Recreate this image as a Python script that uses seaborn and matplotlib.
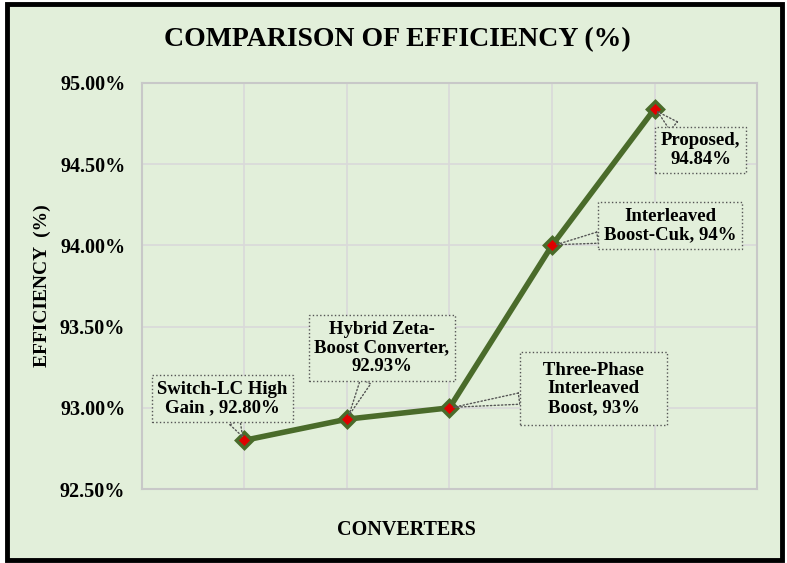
import numpy as np
import pandas as pd
import seaborn as sns
import matplotlib.pyplot as plt
from matplotlib.patches import Rectangle

# данные
converters = ['Switch-LC High\nGain , 92.80%', 'Hybrid Zeta-\nBoost Converter,\n92.93%',
              'Three-Phase\nInterleaved\nBoost, 93%', 'Interleaved\nBoost-Cuk, 94%',
              'Proposed,\n94.84%']
efficiency = [92.80, 92.93, 93.00, 94.00, 94.84]
y_ticks = [92.5, 93.0, 93.5, 94.0, 94.5, 95.0]
# смещения подписей (пиксели)
label_dx = [-22, 35, 144, 118, 46]
label_dy = [42, 71, 19, 20, -41]

bg = '#E2EFDA'
line_c = '#4A6B2A'

sns.set_style('white')
plt.rcParams['font.family'] = ['Liberation Serif', 'DejaVu Serif']
plt.rcParams['text.color'] = 'black'
plt.rcParams['ytick.color'] = 'black'
plt.rcParams['axes.labelcolor'] = 'black'

df = pd.DataFrame({'pos': np.arange(1, len(efficiency) + 1), 'eff': efficiency})

fig = plt.figure(figsize=(7.87, 5.63), dpi=100)
fig.patch.set_facecolor('white')
frame = Rectangle((0.009, 0.005), 0.985, 0.988, transform=fig.transFigure,
                  facecolor=bg, edgecolor='black', linewidth=3.5, zorder=-1)
fig.add_artist(frame)
ax = fig.add_axes([0.1804, 0.1314, 0.7815, 0.7212])
ax.set_zorder(2)
ax.set_facecolor(bg)

sns.lineplot(data=df, x='pos', y='eff', ax=ax, color=line_c, linewidth=4,
             marker='D', markersize=8, markerfacecolor='#E00000',
             markeredgecolor=line_c, markeredgewidth=2.5, zorder=5)

ax.set_xlim(0, 6)
ax.set_ylim(92.5, 95.0)
ax.set_xticks(range(0, 7))
ax.set_xticklabels([])
ax.set_yticks(y_ticks)
ax.set_yticklabels([f'{v:.2f}%' for v in y_ticks], fontsize=14.5, fontweight='bold')
ax.tick_params(axis='y', length=0, pad=12)
ax.tick_params(axis='x', length=0)
ax.grid(True, color='#D9D9D9', linewidth=1.2)
for s in ax.spines.values():
    s.set_color('#C8C8C8')
    s.set_linewidth(1.5)

for i, (x, y, lab) in enumerate(zip(df['pos'], df['eff'], converters)):
    pad = 'square,pad=0.5' if i == 2 else 'square,pad=0.3'
    if i == 2:
        lab = lab.replace('Three-Phase', '   Three-Phase   ')
    ax.annotate(lab, xy=(x, y), xytext=(label_dx[i], label_dy[i]),
                textcoords='offset pixels',
                ha='center', va='center', fontsize=13.5, fontweight='bold',
                linespacing=1.12, zorder=6,
                bbox=dict(boxstyle=pad, fc=bg, ec='#555555', ls=':', lw=1),
                arrowprops=dict(arrowstyle='wedge,tail_width=0.6', fc=bg, ec='#555555',
                                ls=':', lw=1, shrinkA=0, shrinkB=3))

ax.set_xlabel('CONVERTERS', fontsize=14.5, fontweight='bold')
ax.xaxis.set_label_coords(0.43, -0.076)
ax.set_ylabel('EFFICIENCY  (%)', fontsize=14, fontweight='bold')
ax.yaxis.set_label_coords(-0.148, 0.5)
fig.text(0.505, 0.93, 'COMPARISON OF EFFICIENCY (%)', ha='center', va='center',
         fontsize=20, fontweight='bold')

plt.savefig('out.png', dpi=100, facecolor=fig.get_facecolor())
